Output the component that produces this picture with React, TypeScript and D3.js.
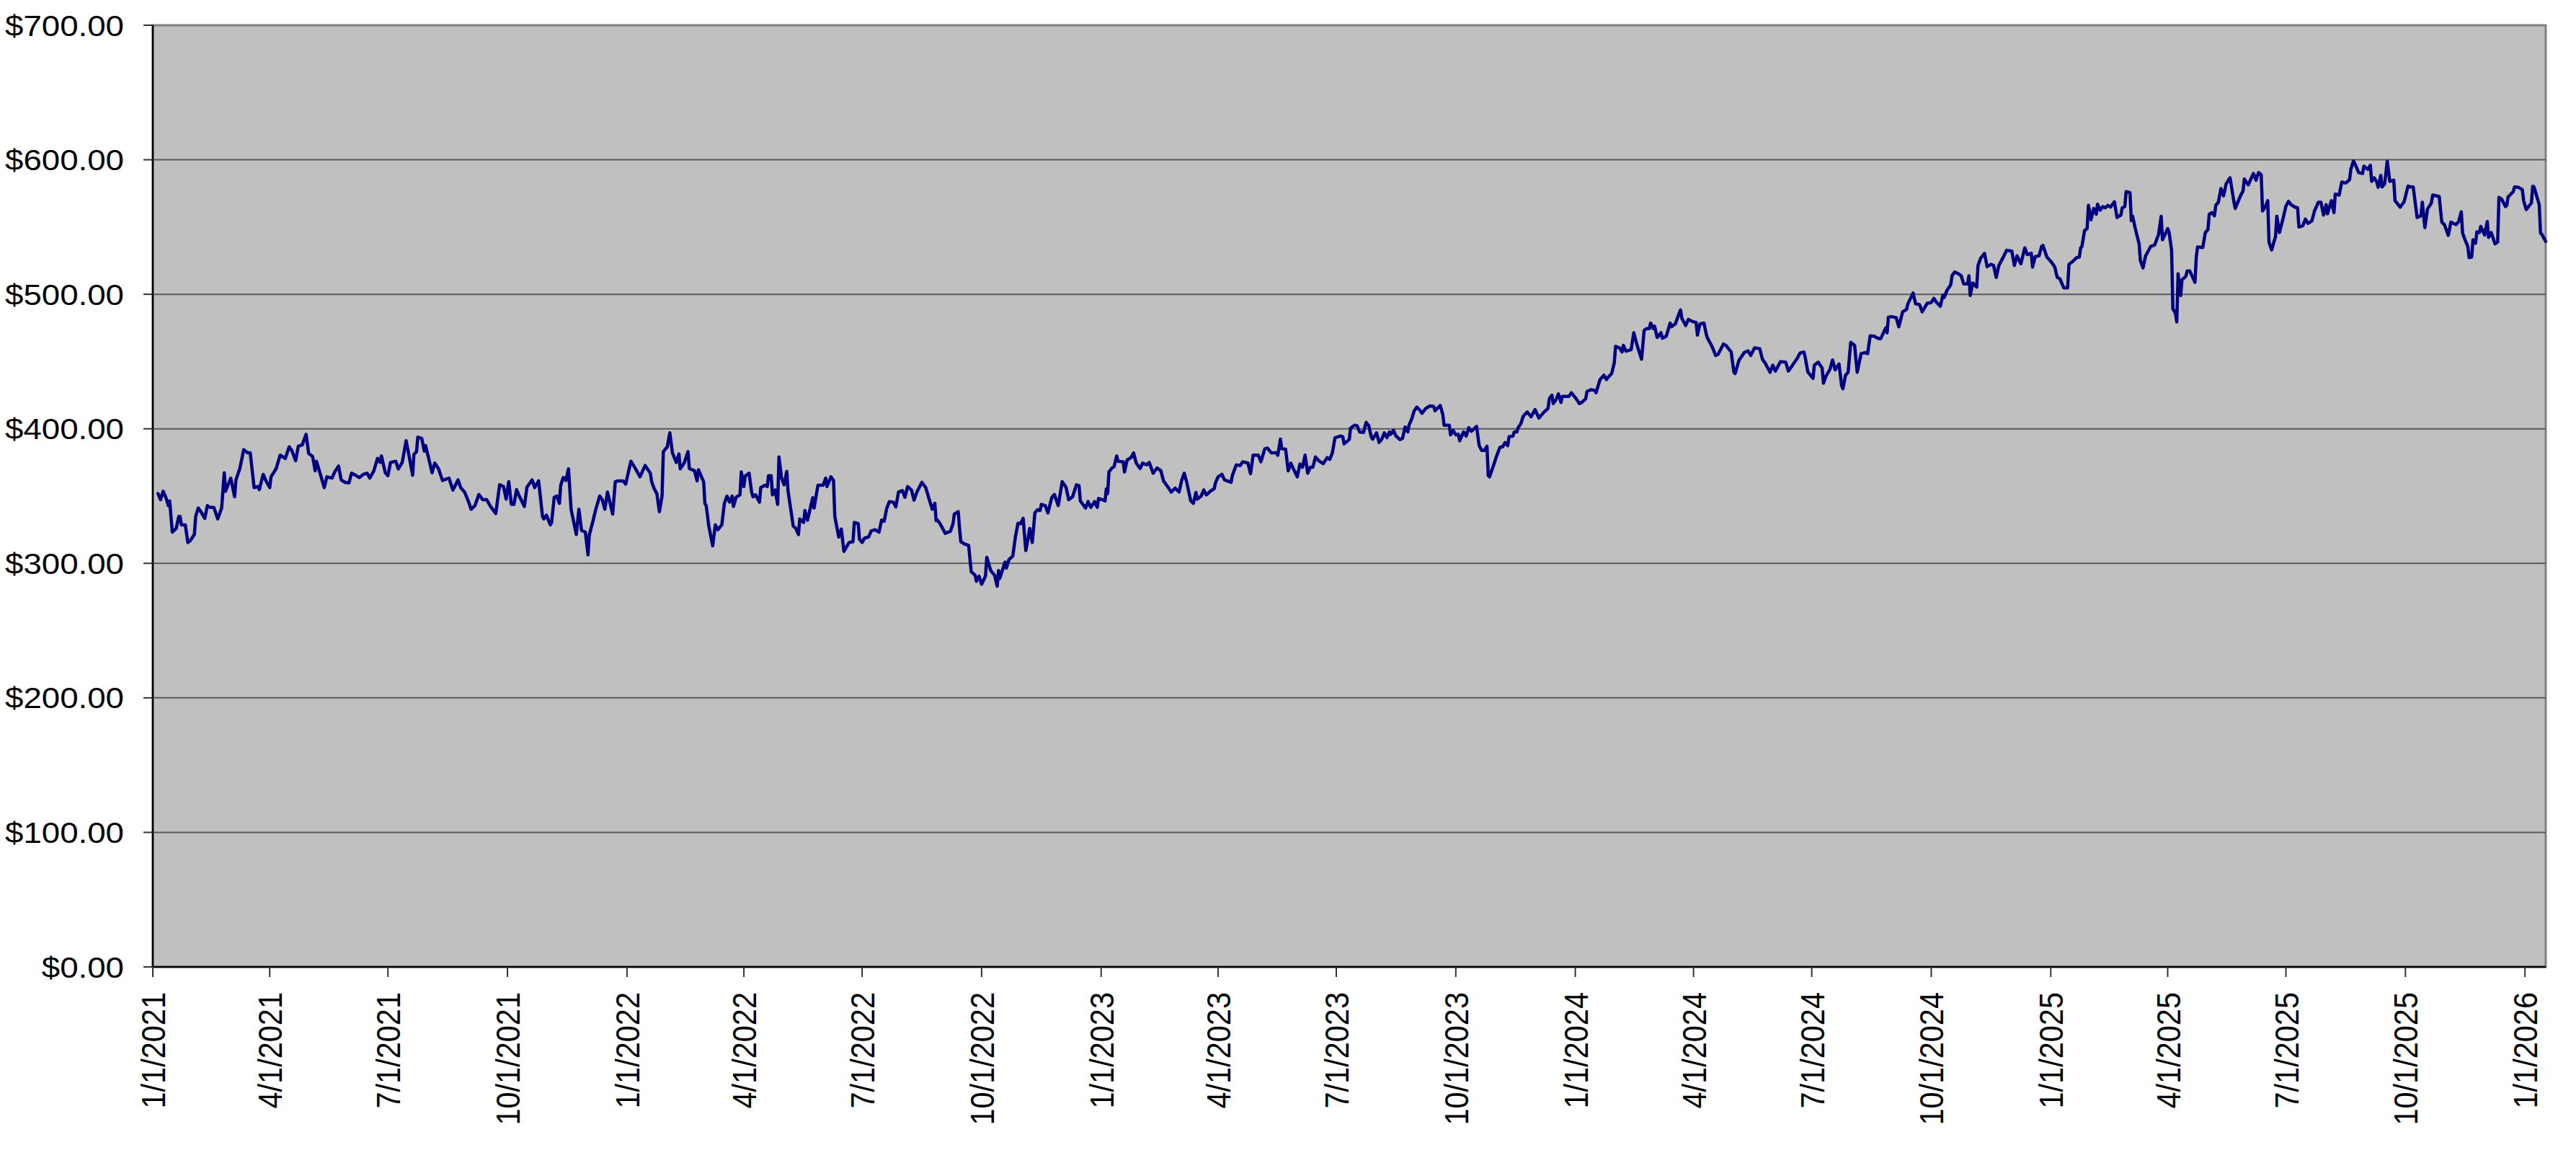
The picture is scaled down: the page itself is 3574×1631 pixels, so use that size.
import * as d3 from "d3";

// daily closes: [days since 1/1/2021, close]
// Jan 2021 - Oct 2021
const part1 = [
  [4, 351.8], [6, 347.3], [8, 353.6], [10, 349.1], [12, 342.9], [13, 346.4], [15, 323.2], [18, 325.9], [20, 334.8], [21, 334.8],
  [22, 328.6], [25, 328.6], [27, 315.5], [29, 317.0], [32, 321.4], [33, 334.8], [35, 341.1], [37, 338.4], [40, 333.4], [42, 342.9],
  [44, 341.6], [47, 341.6], [50, 333.0], [53, 341.1], [55, 367.3], [56, 353.6], [60, 363.4], [63, 349.5], [64, 362.0], [67, 370.5],
  [70, 384.5], [73, 382.1], [75, 382.1], [78, 356.3], [81, 357.1], [82, 354.8], [85, 366.1], [87, 361.6], [90, 356.3], [91, 364.3],
  [95, 370.5], [98, 380.4], [102, 378.0], [105, 386.6], [107, 383.9], [110, 376.3], [112, 387.0], [115, 388.0], [118, 395.9], [120, 381.6],
  [123, 379.5], [125, 368.8], [126, 375.9], [129, 366.1], [132, 356.3], [134, 364.3], [138, 363.4], [140, 367.9], [143, 372.3], [145, 362.0],
  [148, 360.2], [151, 359.8], [153, 367.0], [156, 365.5], [159, 363.8], [162, 366.1], [165, 367.0], [167, 363.4], [170, 368.4], [173, 378.0],
  [175, 375.0], [176, 379.8], [179, 367.3], [181, 365.2], [183, 375.0], [187, 375.9], [189, 370.2], [192, 375.0], [195, 391.1], [197, 381.3],
  [200, 365.5], [201, 380.9], [203, 383.0], [204, 393.8], [207, 392.9], [209, 383.4], [210, 387.5], [212, 379.5], [215, 367.3], [217, 374.5],
  [220, 370.2], [223, 361.6], [228, 363.4], [231, 354.5], [235, 362.0], [237, 356.3], [240, 353.0], [243, 345.9], [245, 340.2], [248, 342.9],
  [251, 351.2], [254, 347.3], [257, 347.3], [260, 342.3], [264, 337.0], [267, 358.4], [270, 357.1], [272, 347.7], [274, 360.7], [276, 343.8],
  [278, 343.8], [280, 354.8], [283, 348.2], [286, 342.3], [288, 356.6], [292, 362.0], [294, 356.3], [297, 361.3],
];

// Oct 2021 - Aug 2022
const part2 = [
  [300, 334.8], [301, 333.0], [303, 335.7], [306, 328.6], [307, 330.4], [309, 349.1], [311, 350.0], [313, 344.6], [314, 358.0], [316, 363.8],
  [318, 361.6], [320, 370.2], [322, 340.2], [326, 321.4], [328, 340.2], [330, 324.5], [333, 323.2], [335, 306.3], [336, 320.9], [339, 332.1],
  [341, 340.2], [344, 350.0], [346, 347.3], [348, 340.2], [350, 353.0], [354, 336.6], [356, 360.7], [358, 361.3], [362, 361.3], [364, 358.9],
  [368, 375.9], [372, 369.6], [375, 364.3], [379, 372.7], [383, 367.0], [384, 360.7], [386, 355.4], [388, 351.8], [390, 338.4], [392, 350.0],
  [393, 383.0], [396, 386.6], [398, 397.0], [400, 382.1], [403, 375.0], [405, 381.3], [406, 370.2], [409, 374.5], [412, 383.0], [413, 370.5],
  [417, 368.8], [419, 361.3], [420, 369.6], [424, 360.7], [425, 344.6], [426, 342.9], [428, 327.7], [431, 313.0], [433, 328.6], [435, 325.0],
  [438, 328.6], [440, 344.6], [442, 350.0], [444, 345.5], [446, 350.0], [447, 342.3], [449, 349.1], [452, 350.9], [453, 367.9], [455, 357.1],
  [456, 364.8], [459, 367.0], [461, 352.7], [462, 349.5], [464, 350.9], [467, 345.5], [468, 356.3], [471, 358.0], [473, 357.1], [474, 365.2],
  [476, 365.2], [477, 350.9], [479, 354.5], [481, 343.8], [482, 379.1], [484, 363.4], [486, 358.4], [488, 368.4], [489, 353.6], [493, 327.7],
  [495, 325.9], [497, 321.4], [498, 333.0], [501, 330.4], [502, 339.3], [504, 332.1], [508, 348.8], [509, 341.1], [512, 358.0], [516, 358.0],
  [518, 363.4], [519, 357.1], [522, 364.3], [524, 361.6], [525, 334.8], [528, 319.6], [530, 325.5], [532, 308.9], [536, 315.5], [539, 316.1],
  [540, 330.4], [543, 329.5], [544, 317.9], [546, 315.5], [548, 318.8], [551, 319.6], [553, 324.1], [556, 325.0], [559, 323.2], [561, 332.1],
  [563, 331.3], [565, 341.1], [567, 345.9], [570, 345.5], [572, 342.0], [574, 353.0], [577, 354.1], [579, 349.1], [581, 357.1], [584, 354.5],
  [586, 347.0], [588, 352.7], [592, 360.2], [595, 356.3], [598, 346.4], [600, 340.2], [602, 344.6], [603, 331.6],
];

// Aug 2022 - Jul 2023
const part3 = [
  [604, 332.1], [606, 329.5], [609, 324.1], [610, 322.3], [614, 323.8], [616, 329.5], [617, 336.6], [620, 338.4], [621, 325.9], [622, 316.1],
  [625, 314.3], [628, 313.4], [630, 293.8], [633, 291.1], [634, 286.6], [636, 290.5], [638, 284.5], [641, 290.5], [642, 304.5], [645, 294.6],
  [648, 291.1], [650, 283.0], [651, 294.6], [652, 288.8], [656, 300.9], [657, 296.4], [659, 302.7], [662, 305.4], [664, 319.6], [666, 329.8],
  [668, 329.5], [670, 333.4], [672, 309.5], [674, 319.6], [675, 325.9], [677, 315.5], [679, 337.5], [681, 339.8], [683, 339.3], [684, 343.8],
  [687, 342.9], [689, 337.5], [692, 348.8], [694, 351.2], [697, 342.9], [700, 360.7], [703, 356.6], [705, 347.3], [708, 349.5], [711, 358.4],
  [713, 357.7], [714, 346.4], [718, 341.1], [720, 345.9], [722, 341.6], [725, 345.9], [727, 341.6], [728, 348.2], [731, 347.3], [733, 346.4],
  [734, 355.4], [735, 351.8], [736, 367.9], [738, 370.5], [740, 372.0], [742, 379.8], [743, 375.9], [747, 375.5], [748, 367.9], [750, 376.8],
  [753, 378.6], [755, 382.1], [757, 374.5], [760, 370.5], [762, 374.5], [765, 373.2], [767, 375.0], [770, 367.0], [773, 370.9], [776, 368.8],
  [778, 361.3], [782, 355.9], [784, 353.0], [787, 355.9], [790, 353.0], [792, 361.6], [794, 367.0], [796, 359.8], [799, 346.4], [801, 344.6],
  [803, 352.7], [804, 347.7], [807, 350.0], [809, 354.5], [811, 350.9], [814, 353.6], [817, 355.4], [818, 359.8], [820, 364.3], [823, 366.1],
  [825, 362.0], [830, 360.2], [831, 365.2], [834, 373.2], [837, 372.7], [839, 375.5], [843, 374.5], [845, 366.6], [847, 380.4], [851, 380.4],
  [853, 375.5], [856, 385.2], [858, 385.7], [861, 382.1], [865, 382.1], [866, 380.4], [868, 392.3], [869, 385.2], [872, 384.8], [874, 368.8],
  [876, 374.5], [878, 370.2], [881, 364.3], [883, 373.8], [885, 371.4], [887, 380.4], [889, 367.0], [891, 371.4], [893, 371.4], [895, 379.1],
  [898, 375.9], [901, 374.1], [904, 378.6], [906, 377.3], [908, 382.1], [910, 393.4], [914, 394.6],
];

// Jul 2023 - May 2024
const part4 = [
  [916, 394.1], [917, 388.8], [921, 392.0], [922, 400.5], [925, 402.7], [927, 402.3], [929, 397.7], [932, 397.3], [934, 404.8], [936, 402.3],
  [938, 393.8], [939, 392.3], [942, 397.0], [944, 389.8], [946, 392.3], [948, 397.0], [950, 393.4], [952, 397.7], [953, 395.9], [955, 398.8],
  [957, 394.6], [960, 392.0], [962, 392.9], [964, 401.3], [966, 397.7], [967, 402.7], [969, 407.1], [971, 413.4], [973, 416.1], [975, 414.3],
  [977, 411.6], [980, 415.2], [983, 417.0], [986, 416.6], [987, 413.4], [991, 417.3], [993, 410.7], [994, 402.7], [998, 402.7], [999, 395.5],
  [1001, 398.8], [1003, 395.5], [1005, 395.9], [1006, 391.1], [1009, 397.7], [1011, 394.6], [1013, 400.9], [1015, 398.2], [1017, 400.0], [1019, 401.8],
  [1021, 387.5], [1023, 383.9], [1025, 383.9], [1027, 387.0], [1028, 365.2], [1029, 364.3], [1033, 375.5], [1034, 378.6], [1037, 386.3], [1039, 386.6],
  [1041, 389.8], [1043, 387.5], [1044, 394.1], [1047, 394.6], [1048, 397.7], [1050, 397.7], [1051, 400.9], [1053, 403.6], [1055, 409.5], [1058, 412.5],
  [1061, 408.9], [1064, 414.3], [1067, 408.0], [1071, 412.5], [1074, 415.2], [1075, 422.3], [1077, 425.0], [1078, 418.8], [1080, 421.4], [1082, 425.9],
  [1084, 419.6], [1085, 424.1], [1090, 424.1], [1092, 426.8], [1095, 423.2], [1097, 420.5], [1098, 418.8], [1100, 419.6], [1103, 422.3], [1104, 427.7],
  [1107, 429.1], [1110, 428.6], [1111, 426.8], [1114, 436.6], [1117, 439.8], [1119, 436.6], [1120, 438.0], [1123, 441.1], [1125, 449.1], [1126, 461.3],
  [1129, 460.2], [1131, 457.1], [1132, 462.0], [1134, 457.7], [1138, 458.9], [1140, 471.4], [1143, 460.7], [1146, 451.8], [1148, 473.2], [1150, 474.5],
  [1152, 474.5], [1153, 478.6], [1155, 474.5], [1156, 476.3], [1158, 467.9], [1161, 471.4], [1162, 467.3], [1165, 468.8], [1168, 478.6], [1169, 475.9],
  [1172, 478.0], [1174, 483.4], [1176, 488.4], [1177, 482.1], [1180, 476.8], [1182, 481.3], [1185, 479.8], [1188, 479.1], [1189, 469.6], [1191, 478.0],
  [1194, 478.6], [1196, 469.6], [1197, 467.0], [1200, 461.6], [1201, 459.5], [1203, 454.5], [1205, 455.4], [1209, 463.0], [1211, 462.0], [1215, 457.1],
  [1217, 442.3], [1218, 441.1], [1221, 450.9], [1225, 456.6],
];

// May 2024 - Mar 2025
const part5 = [
  [1228, 458.0], [1230, 454.5], [1233, 460.2], [1237, 459.5], [1239, 451.8], [1241, 449.1], [1245, 442.0], [1247, 447.3], [1249, 442.9], [1253, 450.0],
  [1257, 449.5], [1259, 442.9], [1262, 447.0], [1266, 452.7], [1268, 456.3], [1271, 457.1], [1272, 453.0], [1274, 442.3], [1278, 437.5], [1279, 447.3],
  [1282, 449.5], [1285, 445.2], [1286, 433.9], [1288, 439.3], [1291, 444.1], [1293, 451.2], [1295, 443.8], [1298, 448.2], [1300, 432.1], [1301, 429.8],
  [1303, 439.8], [1305, 442.0], [1307, 464.3], [1310, 462.0], [1312, 442.0], [1315, 455.9], [1318, 456.6], [1320, 455.9], [1322, 469.1], [1325, 468.8],
  [1328, 467.3], [1330, 467.0], [1334, 475.0], [1335, 471.4], [1336, 483.0], [1338, 483.4], [1342, 482.7], [1344, 475.9], [1347, 487.0], [1350, 488.8],
  [1351, 492.9], [1355, 500.9], [1357, 492.9], [1360, 492.3], [1362, 487.0], [1366, 493.4], [1369, 493.8], [1371, 497.0], [1373, 494.1], [1376, 491.1],
  [1378, 499.5], [1379, 497.7], [1381, 502.7], [1384, 507.1], [1385, 513.8], [1387, 516.6], [1390, 515.2], [1392, 513.8], [1394, 507.7], [1397, 507.7],
  [1398, 513.8], [1399, 499.1], [1401, 508.4], [1403, 506.3], [1404, 505.4], [1405, 521.4], [1407, 526.8], [1410, 530.4], [1412, 520.5], [1415, 522.3],
  [1417, 521.4], [1419, 512.5], [1421, 521.4], [1424, 526.8], [1427, 532.7], [1431, 532.1], [1433, 521.4], [1435, 528.6], [1438, 522.7], [1441, 534.5],
  [1443, 529.5], [1446, 530.4], [1447, 520.2], [1449, 528.0], [1452, 528.6], [1454, 535.7], [1455, 536.3], [1458, 527.7], [1461, 524.5], [1464, 520.5],
  [1466, 512.5], [1468, 511.6], [1471, 504.8], [1474, 504.8], [1475, 522.3], [1478, 524.5], [1481, 527.3], [1483, 527.7], [1484, 534.5], [1485, 535.7],
  [1487, 547.3], [1489, 548.8], [1490, 566.1], [1492, 555.4], [1494, 563.8], [1496, 559.5], [1497, 567.0], [1499, 562.5], [1501, 565.2], [1503, 564.3],
  [1505, 566.1], [1507, 564.8], [1510, 568.8], [1512, 557.1], [1515, 558.9], [1516, 564.3], [1518, 565.2], [1519, 576.3], [1522, 575.5], [1523, 554.8],
  [1524, 558.0], [1526, 549.1], [1529, 537.5], [1530, 525.0], [1532, 519.6], [1534, 528.6], [1536, 532.1],
];

// Mar 2025 - Jan 2026
const part6 = [
  [1538, 535.7], [1541, 536.6], [1544, 544.6], [1546, 558.0], [1547, 540.5], [1551, 548.8], [1552, 546.4], [1554, 533.0], [1555, 489.3], [1557, 485.7],
  [1558, 479.5], [1559, 515.2], [1561, 499.1], [1562, 510.7], [1565, 513.4], [1566, 517.3], [1568, 517.3], [1572, 508.9], [1573, 527.7], [1574, 535.2],
  [1578, 534.8], [1580, 545.9], [1582, 548.2], [1583, 559.5], [1585, 560.7], [1587, 558.4], [1588, 566.1], [1590, 568.4], [1592, 578.6], [1594, 573.2],
  [1596, 582.1], [1599, 586.6], [1602, 568.8], [1603, 563.8], [1607, 573.2], [1609, 576.8], [1610, 585.7], [1613, 581.3], [1617, 589.8], [1619, 584.8],
  [1621, 590.5], [1623, 588.8], [1624, 562.0], [1626, 564.8], [1628, 569.6], [1629, 538.8], [1631, 533.0], [1634, 542.9], [1635, 558.0], [1637, 545.9],
  [1640, 557.1], [1642, 565.5], [1644, 569.1], [1646, 566.6], [1649, 564.8], [1651, 564.3], [1652, 550.0], [1655, 550.9], [1657, 555.9], [1659, 552.7],
  [1662, 554.5], [1664, 562.0], [1667, 568.4], [1669, 568.4], [1671, 558.9], [1673, 566.6], [1674, 559.8], [1677, 569.6], [1679, 560.7], [1680, 574.5],
  [1683, 573.8], [1685, 583.4], [1688, 582.7], [1691, 585.2], [1692, 592.9], [1694, 599.1], [1696, 595.2], [1698, 590.5], [1701, 589.8], [1702, 595.2],
  [1705, 592.9], [1707, 595.9], [1708, 583.9], [1710, 586.6], [1712, 583.4], [1713, 579.5], [1715, 588.4], [1716, 579.8], [1718, 582.1], [1720, 598.8],
  [1722, 583.9], [1725, 584.8], [1726, 569.6], [1730, 564.8], [1733, 568.8], [1736, 580.4], [1738, 579.8], [1740, 579.8], [1743, 557.1], [1746, 558.4],
  [1747, 568.4], [1749, 549.5], [1751, 563.4], [1754, 567.9], [1755, 573.8], [1760, 572.7], [1762, 553.6], [1764, 551.8], [1767, 543.8], [1769, 553.6],
  [1773, 551.8], [1775, 554.1], [1777, 561.3], [1778, 545.5], [1780, 540.2], [1782, 535.7], [1783, 527.3], [1785, 527.7], [1786, 540.5], [1788, 538.0],
  [1789, 546.4], [1791, 545.9], [1792, 550.5], [1795, 544.1], [1797, 554.1], [1798, 542.3], [1800, 545.9], [1803, 537.5], [1805, 538.8], [1806, 572.0],
  [1808, 570.9], [1811, 565.2], [1812, 566.1], [1813, 572.3], [1817, 576.3], [1818, 579.8], [1821, 579.5], [1824, 577.7], [1825, 569.6], [1827, 563.0],
  [1831, 567.9], [1832, 580.4], [1833, 579.8], [1837, 566.6], [1838, 545.5], [1839, 544.6], [1842, 539.3],
];

const priceTicks = [0, 100, 200, 300, 400, 500, 600, 700];

const W = 3574;
const H = 1631;
const plot = { left: 212, right: 3532, top: 35, bottom: 1341 };
const FONT = "'Liberation Sans', Arial, sans-serif";
const FONT_SIZE = 41.5;
const STRETCH = 1.1; // the source image is a bit wider than tall

const START = Date.UTC(2021, 0, 1);
const toDate = (d: number) => new Date(START + d * 864e5);

export default function App() {
  const series = [...part1, ...part2, ...part3, ...part4, ...part5, ...part6].map(([d, v]) => ({
    date: toDate(d),
    value: v,
  }));

  const lastDate = d3.max(series, (s) => s.date) as Date;
  const x = d3.scaleUtc().domain([toDate(0), lastDate]).range([plot.left, plot.right]);
  const y = d3.scaleLinear().domain([0, 700]).range([plot.bottom, plot.top]);

  const line = d3
    .line<{ date: Date; value: number }>()
    .x((d) => x(d.date))
    .y((d) => y(d.value));

  const dateTicks = d3.utcMonth.every(3)!.range(toDate(0), d3.utcDay.offset(lastDate, 1));
  const fmtDate = d3.utcFormat("%-m/%-d/%Y");
  const fmtPrice = d3.format("$,.2f");

  return (
    <svg
      width={W}
      height={H}
      style={{ position: "absolute", left: 0, top: 0, display: "block", background: "#fff" }}
    >
      <rect
        x={plot.left}
        y={plot.top}
        width={plot.right - plot.left}
        height={plot.bottom - plot.top}
        fill="#c0c0c0"
        stroke="#808080"
        strokeWidth={3}
      />

      {priceTicks
        .filter((t) => t > 0 && t < 700)
        .map((t) => (
          <line key={"g" + t} x1={plot.left} x2={plot.right} y1={y(t)} y2={y(t)} stroke="#5a5a5a" strokeWidth={2} />
        ))}

      <path
        d={line(series) ?? ""}
        fill="none"
        stroke="#000080"
        strokeWidth={4.5}
        strokeLinejoin="round"
        strokeLinecap="round"
      />

      {/* axes */}
      <line x1={plot.left} x2={plot.left} y1={plot.top} y2={plot.bottom} stroke="#000" strokeWidth={2.5} />
      <line x1={plot.left} x2={plot.right} y1={plot.bottom} y2={plot.bottom} stroke="#000" strokeWidth={2.5} />

      {priceTicks.map((t) => (
        <g key={"y" + t}>
          <line x1={plot.left - 13} x2={plot.left} y1={y(t)} y2={y(t)} stroke="#333" strokeWidth={2} />
          <text
            transform={`translate(172,${y(t)}) scale(${STRETCH},1)`}
            dy="0.35em"
            textAnchor="end"
            fontFamily={FONT}
            fontSize={FONT_SIZE}
            fill="#000"
          >
            {fmtPrice(t)}
          </text>
        </g>
      ))}

      {dateTicks.map((d) => (
        <g key={"x" + d.getTime()}>
          <line x1={x(d)} x2={x(d)} y1={plot.bottom} y2={plot.bottom + 14} stroke="#333" strokeWidth={2} />
          <text
            transform={`translate(${x(d) + 17},1376) scale(${STRETCH},1) rotate(-90)`}
            textAnchor="end"
            fontFamily={FONT}
            fontSize={FONT_SIZE}
            fill="#000"
          >
            {fmtDate(d)}
          </text>
        </g>
      ))}
    </svg>
  );
}
